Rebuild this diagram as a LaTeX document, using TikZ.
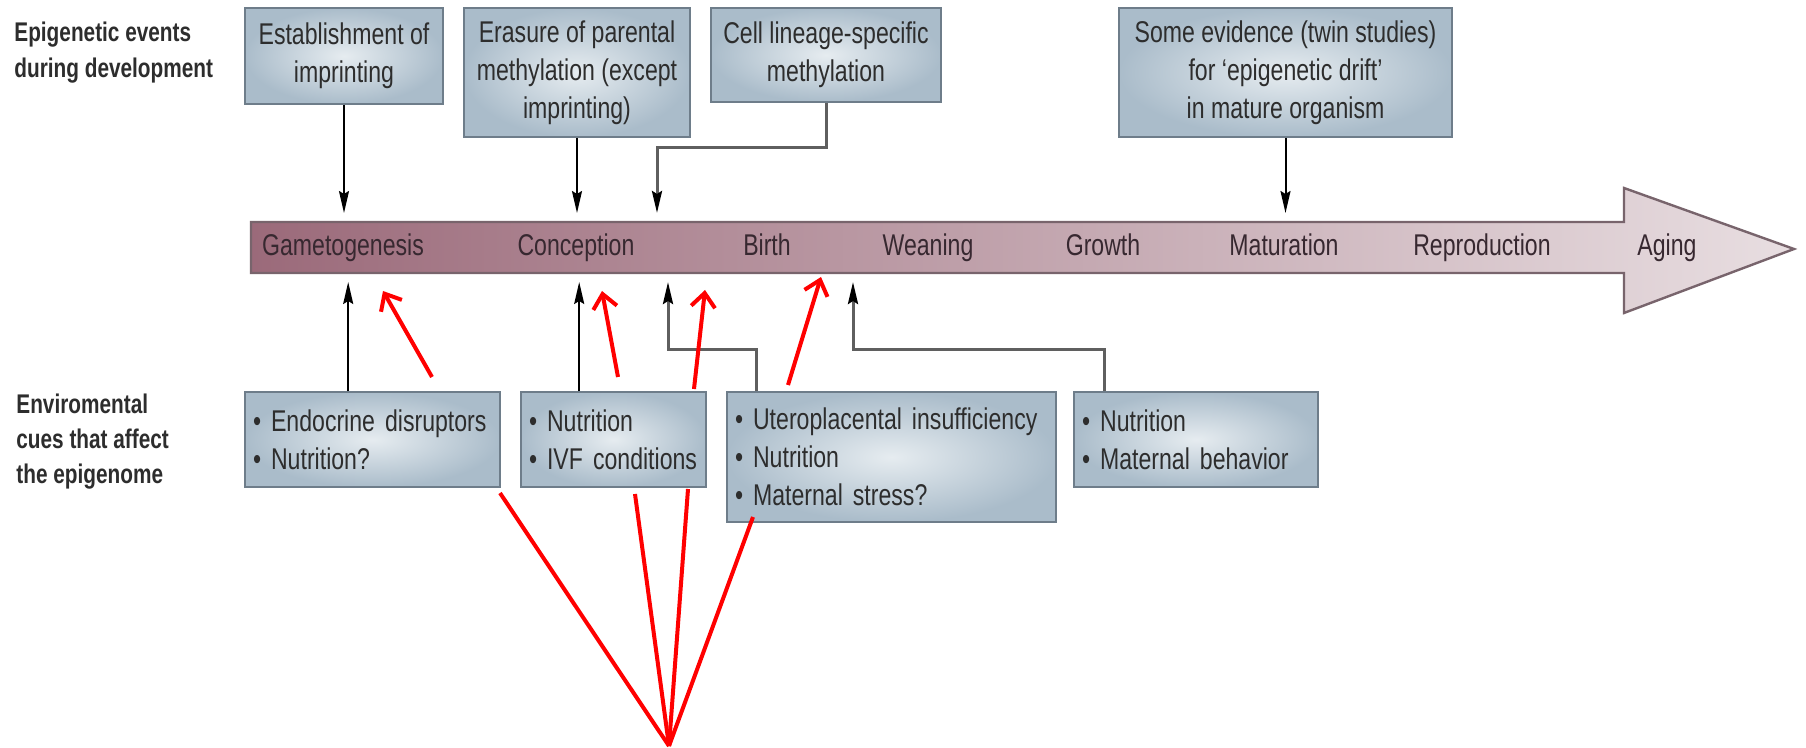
\documentclass[tikz,border=0pt]{standalone}
\usepackage{fontspec}
\setmainfont{Liberation Sans}[FakeStretch=0.77]
\usetikzlibrary{arrows.meta,calc}

\definecolor{boxin}{RGB}{230,236,240}
\definecolor{boxout}{RGB}{170,188,202}
\definecolor{boxline}{RGB}{110,125,138}
\definecolor{txt}{RGB}{45,45,45}
\definecolor{stagetxt}{RGB}{55,40,48}
\definecolor{barL}{RGB}{155,106,122}
\definecolor{barR}{RGB}{232,222,225}
\definecolor{barline}{RGB}{120,100,108}
\definecolor{elbow}{RGB}{95,95,95}
\definecolor{redline}{RGB}{255,0,0}

\begin{document}
\begin{tikzpicture}[x=0.5pt,y=-0.5pt,
  every node/.style={text=txt},
  evbox/.style={draw=boxline, line width=0.8pt, inner color=boxin, outer color=boxout,
    align=center, font=\fontsize{15}{19}\selectfont, inner sep=0pt},
  cuebox/.style={draw=boxline, line width=0.8pt, inner color=boxin, outer color=boxout,
    align=left, font=\fontsize{15}{19}\selectfont, inner xsep=4pt, inner ysep=0pt},
  stage/.style={font=\fontsize{15}{18}\selectfont, anchor=base, inner sep=0pt, text=stagetxt},
  heading/.style={font=\bfseries\fontsize{13.5}{18}\selectfont, align=left, anchor=west, inner sep=0pt},
  blk/.style={draw=black, line width=1pt, -{Stealth[length=11pt,width=5pt,inset=1.5pt]}},
  elb/.style={draw=elbow, line width=1.5pt, -{Stealth[length=11pt,width=5pt,inset=1.5pt,color=black]}},
  redln/.style={draw=redline, line width=2pt},
  redarr/.style={redln, -{Straight Barb[length=7pt,width=12pt]}},
]
\useasboundingbox (0,0) rectangle (1806,748);
\fill[white] (0,0) rectangle (1806,748);

% timeline arrow
\shade[left color=barL, right color=barR, draw=barline, line width=1.2pt]
  (251,222) -- (1624,222) -- (1624,188) -- (1794,249) -- (1624,313) -- (1624,273) -- (251,273) -- cycle;

\node[stage] (s1) at (343,256) {Gametogenesis};
\node[stage] (s2) at (576,256) {Conception};
\node[stage] (s3) at (767,256) {Birth};
\node[stage] (s4) at (928,256) {Weaning};
\node[stage] (s5) at (1103,256) {Growth};
\node[stage] (s6) at (1284,256) {Maturation};
\node[stage] (s7) at (1482,256) {Reproduction};
\node[stage] (s8) at (1667,256) {Aging};

% headings
\node[heading] (h1) at (14,53) {Epigenetic events\\during development};
\node[heading, font=\bfseries\fontsize{13.5}{17.5}\selectfont] (h2) at (16,442) {Enviromental\\cues that affect\\the epigenome};

% top boxes
\node[evbox, minimum width=99pt, minimum height=48pt] (e1) at (344,56) {Establishment of\\imprinting};
\node[evbox, minimum width=113pt, minimum height=64.5pt] (e2) at (577,72.5) {Erasure of parental\\methylation (except\\imprinting)};
\node[evbox, minimum width=115pt, minimum height=47pt] (e3) at (826,55) {Cell lineage-specific\\methylation};
\node[evbox, minimum width=166.5pt, minimum height=64.5pt] (e4) at (1285.5,72.5) {Some evidence (twin studies)\\for ‘epigenetic drift’\\in mature organism};

% bottom boxes
\node[cuebox, text width=119.5pt, minimum height=47.5pt] (b1) at (372.5,439.5)
  {\mbox{• Endocrine disruptors}\\\mbox{• Nutrition?}};
\node[cuebox, text width=84.5pt, minimum height=47.5pt] (b2) at (613.5,439.5)
  {\mbox{• Nutrition}\\\mbox{• IVF conditions}};
\node[cuebox, text width=156.5pt, minimum height=65pt] (b3) at (891.5,457)
  {\mbox{• Uteroplacental insufficiency}\\\mbox{• Nutrition}\\\mbox{• Maternal stress?}};
\node[cuebox, text width=114pt, minimum height=47.5pt] (b4) at (1196,439.5)
  {\mbox{• Nutrition}\\\mbox{• Maternal behavior}};

% helper coordinates
\coordinate (tTop) at (0,213);
\coordinate (tBot) at (0,282);
\coordinate (k1) at (0,148);
\coordinate (k2) at (0,350);
\coordinate (e3in) at (657,213);
\coordinate (b3in) at (668,282);
\coordinate (b4in) at (853,282);
\coordinate (b1a) at ($(b1.north west)+(104,0)$);
\coordinate (b2a) at ($(b2.north west)+(59,0)$);
\coordinate (b3a) at ($(b3.north west)+(30,0)$);
\coordinate (b4a) at ($(b4.north west)+(31,0)$);

% black connectors
\draw[blk] (e1.south) -- (e1.south |- tTop);
\draw[blk] (e2.south) -- (e2.south |- tTop);
\draw[elb] (e3.south) -- (e3.south |- k1) -| (e3in);
\draw[blk] (e4.south) -- (e4.south |- tTop);

\draw[blk] (b1a) -- (b1a |- tBot);
\draw[blk] (b2a) -- (b2a |- tBot);
\draw[elb] (b3a) -- (b3a |- k2) -| (b3in);
\draw[elb] (b4a) -- (b4a |- k2) -| (b4in);

% red arrows
\coordinate (r1a) at (432,377); \coordinate (r1b) at (383,291);
\coordinate (r2a) at (618,377); \coordinate (r2b) at (602,291);
\coordinate (r3a) at (694,389); \coordinate (r3b) at (705,290);
\coordinate (r4a) at (788,385); \coordinate (r4b) at (821,277);
\draw[redarr] (r1a) -- (r1b);
\draw[redarr] (r2a) -- (r2b);
\draw[redarr] (r3a) -- (r3b);
\draw[redarr] (r4a) -- (r4b);

% red lines to hub
\coordinate (hub) at (669,746);
\coordinate (l1) at (500,493);
\coordinate (l2) at (635,494);
\coordinate (l3) at (688,489);
\coordinate (l4) at (753,517);
\draw[redln] (l1) -- (hub);
\draw[redln] (l2) -- (hub);
\draw[redln] (l3) -- (hub);
\draw[redln] (l4) -- (hub);
\end{tikzpicture}
\end{document}
